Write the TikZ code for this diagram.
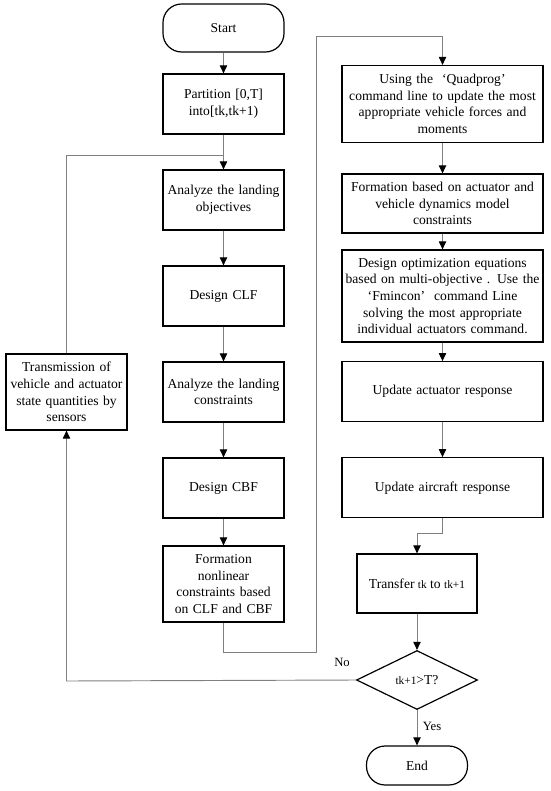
\documentclass[tikz,border=0pt]{standalone}
\usepackage{fontspec}
\setmainfont{Liberation Serif}
\usetikzlibrary{arrows.meta,shapes.geometric}
\definecolor{linegray}{RGB}{128,128,128}
\begin{document}
\begin{tikzpicture}[x=0.75pt,y=-0.75pt,
  box/.style={draw=black,line width=0.9pt,align=center,inner sep=1pt,font=\fontsize{10.2pt}{12.5pt}\selectfont},
  lbox/.style={box,minimum width=90.75pt,minimum height=45pt,text width=88pt},
  rbox/.style={box,minimum width=150.75pt,text width=148pt},
  term/.style={box,rounded corners=14pt},
  conn/.style={draw=linegray,line width=0.7pt},
  arr/.style={conn,-{Triangle[length=6pt,width=5.5pt,color=black]}},
  lbl/.style={font=\fontsize{9.5pt}{11pt}\selectfont,inner sep=0pt}]
\useasboundingbox (0,0) rectangle (550,791);
% left column
\node[term,minimum width=90.75pt,minimum height=36pt] (start) at (223.5,28) {Start};
\node[lbox] (part) at (223.5,104) {Partition [0,T]\\into[tk,tk+1)};
\node[lbox] (obj) at (223.5,200) {Analyze the landing\\objectives};
\node[lbox] (clf) at (223.5,296) {Design CLF};
\node[lbox] (cons) at (223.5,392) {Analyze the landing\\constraints};
\node[lbox] (cbf) at (223.5,488) {Design CBF};
\node[lbox,minimum height=57pt] (form) at (223.5,584) {Formation\\nonlinear\\constraints based\\on CLF and CBF};
\node[lbox,minimum height=57pt] (trans) at (66.5,392) {Transmission of\\vehicle and actuator\\state quantities by\\sensors};
% right column
\node[rbox,minimum height=57.75pt] (quad) at (442.5,104) {Using the \ ‘Quadprog’\\command line to update the most\\appropriate vehicle forces and\\moments};
\node[rbox,minimum height=44.25pt] (fact) at (442.5,203.5) {Formation based on actuator and\\vehicle dynamics model\\constraints};
\node[rbox,minimum height=69pt] (opt) at (442.5,296) {Design optimization equations\\based on multi-objective . Use the\\‘Fmincon’ \ command Line\\solving the most appropriate\\individual actuators command.};
\node[rbox,minimum height=45pt] (act) at (442.5,391.7) {Update actuator response};
\node[rbox,minimum height=45pt] (air) at (442.5,487.7) {Update aircraft response};
\node[box,minimum width=90pt,minimum height=44.25pt] (tr) at (417,583.5) {Transfer {\fontsize{8.5pt}{10pt}\selectfont tk} to {\fontsize{8.5pt}{10pt}\selectfont tk+1}};
\node[diamond,draw=black,line width=0.9pt,minimum width=90.75pt,minimum height=44.25pt,inner sep=0pt,aspect=2.05,font=\fontsize{10.2pt}{12.5pt}\selectfont] (dec) at (417,680) {{\fontsize{8.5pt}{10pt}\selectfont tk+1}>T?};
\node[term,minimum width=75.75pt,minimum height=29.25pt] (end) at (417,765.5) {End};
% helper coordinates
\coordinate (j1) at (223.5,155);
\coordinate (f1) at (223.5,652);
\coordinate (f2) at (316,652);
\coordinate (f3) at (316,36);
\coordinate (f4) at (442.5,36);
\coordinate (a1) at (442.5,533);
\coordinate (a2) at (417,533);
\coordinate (n1) at (66.5,681);
% connectors
\draw[arr] (start) -- (part);
\draw[arr] (part) -- (obj);
\draw[conn] (trans.north) |- (j1);
\draw[arr] (obj) -- (clf);
\draw[arr] (clf) -- (cons);
\draw[arr] (cons) -- (cbf);
\draw[arr] (cbf) -- (form);
\draw[arr] (form.south) -- (f1) -- (f2) -- (f3) -- (f4) -- (quad.north);
\draw[arr] (quad) -- (fact);
\draw[arr] (fact) -- (opt);
\draw[arr] (opt) -- (act);
\draw[arr] (act) -- (air);
\draw[arr] (air.south) -- (a1) -- (a2) -- (tr.north);
\draw[arr] (tr) -- (dec);
\draw[arr] (dec) -- node[lbl,right=4pt,pos=0.45] (yes) {Yes} (end);
\draw[arr] (dec.west) -- (n1) -- (trans.south);
\node[lbl] (no) at (342,662) {No};
\end{tikzpicture}
\end{document}
